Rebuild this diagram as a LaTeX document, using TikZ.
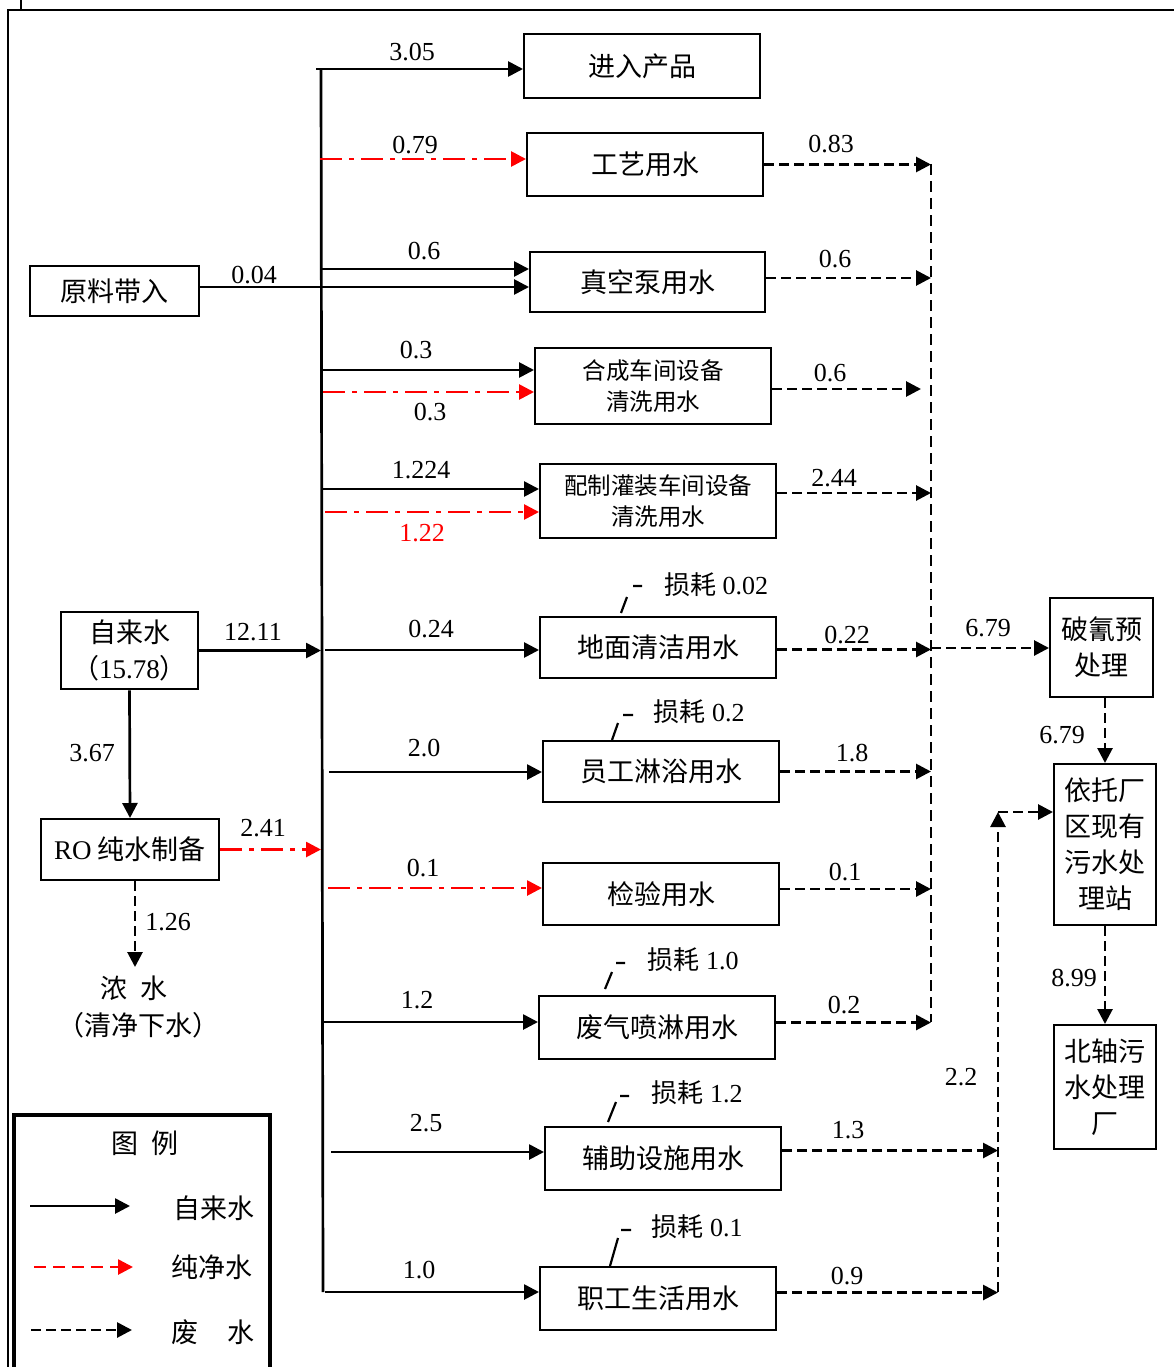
\documentclass[tikz,border=0pt]{standalone}
\usepackage{fontspec}
\setmainfont{Liberation Serif}
\newfontfamily\cjk{Noto Sans CJK SC}
\usetikzlibrary{arrows.meta}
\begin{document}
\begin{tikzpicture}[x=1pt,y=-1pt,
  box/.style={draw,line width=2pt,inner sep=0pt,align=center,font=\cjk\fontsize{27}{36}\selectfont},
  sbox/.style={box,font=\cjk\fontsize{23.5}{31}\selectfont},
  num/.style={inner sep=0pt,font=\fontsize{26}{30}\selectfont},
  lbl/.style={inner sep=0pt,font=\fontsize{26}{30}\selectfont},
  tip/.style={-{Triangle[length=15pt,width=15pt]}},
  wline/.style={tip,line width=2.7pt},
  pline/.style={tip,line width=2.7pt,red,dash pattern=on 22pt off 7pt on 5pt off 7pt},
  wwline/.style={tip,line width=2.8pt,dash pattern=on 10pt off 5pt},
  wwplain/.style={line width=2.8pt,dash pattern=on 11pt off 6pt},
  leader/.style={line width=2.2pt}
]
\useasboundingbox (0,0) rectangle (1173,1367);
% frame
\draw[line width=2.5pt] (8,1390) -- (8,10) -- (1190,10);
\draw[line width=1.8pt] (21,-5) -- (21,10);

% boxes
\node[box,minimum width=236,minimum height=64] (jr) at (642,66) {进入产品};
\node[box,minimum width=236,minimum height=63] (gy) at (645,164.5) {工艺用水};
\node[box,minimum width=235,minimum height=60] (zk) at (647.5,282) {真空泵用水};
\node[sbox,minimum width=236,minimum height=76] (hc) at (653,386) {合成车间设备\\清洗用水};
\node[sbox,minimum width=236,minimum height=74] (pz) at (658,501) {配制灌装车间设备\\清洗用水};
\node[box,minimum width=236,minimum height=61] (dm) at (658,647.5) {地面清洁用水};
\node[box,minimum width=236,minimum height=61] (yg) at (661,771.5) {员工淋浴用水};
\node[box,minimum width=236,minimum height=62] (jy) at (661,894) {检验用水};
\node[box,minimum width=236,minimum height=63] (fq) at (657,1027.5) {废气喷淋用水};
\node[box,minimum width=236,minimum height=63] (fz) at (663,1158.5) {辅助设施用水};
\node[box,minimum width=236,minimum height=63] (zg) at (658,1298.5) {职工生活用水};
\node[box,minimum width=169,minimum height=50] (yl) at (114.5,291) {原料带入};
\node[box,line width=2.8pt,minimum width=137,minimum height=77] (zls) at (129.5,650.5) {自来水\\{\cjk （}{\rmfamily 15.78}{\cjk ）}};
\node[box,minimum width=178,minimum height=61] (ro) at (130,849.5) {{\rmfamily RO} 纯水制备};
\node[box,minimum width=103,minimum height=99] (po) at (1101.5,647.5) {破氰预\\处理};
\node[box,minimum width=102,minimum height=161] (yt) at (1105,844.5) {依托厂\\区现有\\污水处\\理站};
\node[box,minimum width=102,minimum height=124] (bz) at (1105,1087) {北轴污\\水处理\\厂};

% bus
\coordinate (bt) at (321,69);
\coordinate (bb) at (323,1292);
\draw[line width=2.7pt] (bt) -- (bb);

% tap / pure water supply
\coordinate (s1) at (316,69);   \draw[wline] (s1) -- (s1 -| jr.west);
\coordinate (s2) at (320,159);  \draw[pline] (s2) -- (s2 -| gy.west);
\coordinate (s3) at (320,269);  \draw[wline] (s3) -- (s3 -| zk.west);
\draw[wline] ([yshift=4pt]yl.east) -- ([yshift=4pt]yl.east -| zk.west);
\coordinate (s4) at (320,370);  \draw[wline] (s4) -- (s4 -| hc.west);
\coordinate (s5) at (323,392);  \draw[pline] (s5) -- (s5 -| hc.west);
\coordinate (s6) at (323,489);  \draw[wline] (s6) -- (s6 -| pz.west);
\coordinate (s7) at (325,512);  \draw[pline] (s7) -- (s7 -| pz.west);
\coordinate (s8) at (321,650);  \draw[wline] (zls.east) -- (zls.east -| s8);
\coordinate (s9) at (325,650);  \draw[wline] (s9) -- (s9 -| dm.west);
\coordinate (s10) at (329,772); \draw[wline] (s10) -- (s10 -| yg.west);
\draw[pline] (ro.east) -- (ro.east -| bt);
\coordinate (s11) at (328,888); \draw[pline] (s11) -- (s11 -| jy.west);
\coordinate (s12) at (324,1022); \draw[wline] (s12) -- (s12 -| fq.west);
\coordinate (s13) at (331,1152); \draw[wline] (s13) -- (s13 -| fz.west);
\coordinate (s14) at (325,1292); \draw[wline] (s14) -- (s14 -| zg.west);
\draw[wline] (zls.south) -- (ro.north);
\coordinate (n1) at (135,967);
\draw[wwline] (ro.south -| n1) -- (n1);

% waste water
\coordinate (c1) at (931,164);
\coordinate (c2) at (931,1022);
\coordinate (c3) at (931,648);
\draw[wwplain] (c1) -- (c2);
\draw[wwline] (gy.east) -- (gy.east -| c1);
\draw[wwline] ([yshift=4pt]zk.east) -- ([yshift=4pt]zk.east -| c1);
\draw[wwline,shorten >=10pt] ([yshift=-3pt]hc.east) -- ([yshift=-3pt]hc.east -| c1);
\draw[wwline] ([yshift=8pt]pz.east) -- ([yshift=8pt]pz.east -| c1);
\draw[wwline] ([yshift=-2pt]dm.east) -- ([yshift=-2pt]dm.east -| c1);
\draw[wwline] (yg.east) -- (yg.east -| c1);
\draw[wwline] ([yshift=5pt]jy.east) -- ([yshift=5pt]jy.east -| c1);
\draw[wwline] ([yshift=5pt]fq.east) -- ([yshift=5pt]fq.east -| c1);
\draw[wwline] (c3) -- (c3 -| po.west);
\draw[wwline] (po.south -| yt.north) -- (yt.north);
\draw[wwline] (yt.south) -- (bz.north);
\coordinate (d1) at (998,1292);
\coordinate (d2) at (998,812);
\draw[wwline] (d1) -- (d2);
\draw[wwline] (d2) -- (d2 -| yt.west);
\draw[wwline] ([yshift=8pt]fz.east) -- ([yshift=8pt]fz.east -| d1);
\draw[wwline] ([yshift=6pt]zg.east) -- ([yshift=6pt]zg.east -| d1);

% loss leaders
\draw[leader] (621,613) -- (627,597) (633,586) -- (642,586);
\draw[leader] (612,740) -- (618,723) (623,715) -- (633,715);
\draw[leader] (605,989) -- (612,972) (616,963) -- (625,963);
\draw[leader] (608,1122) -- (616,1102) (620,1096) -- (629,1096);
\draw[leader] (610,1266) -- (618,1238) (621,1230) -- (631,1230);

% numeric labels (left)
\node[num] (t1) at (412,52) {3.05};
\node[num] (t2) at (415,145) {0.79};
\node[num] (t3) at (424,251) {0.6};
\node[num] (t4) at (254,275) {0.04};
\node[num] (t5) at (416,350) {0.3};
\node[num] (t6) at (430,412) {0.3};
\node[num] (t7) at (421,470) {1.224};
\node[num,red] (t8) at (422,533) {1.22};
\node[num] (t9) at (253,632) {12.11};
\node[num] (t10) at (431,629) {0.24};
\node[num] (t11) at (92,753) {3.67};
\node[num] (t12) at (424,748) {2.0};
\node[num] (t13) at (263,828) {2.41};
\node[num] (t14) at (423,868) {0.1};
\node[num] (t15) at (168,922) {1.26};
\node[num] (t16) at (417,1000) {1.2};
\node[num] (t17) at (426,1123) {2.5};
\node[num] (t18) at (419,1270) {1.0};
% numeric labels (right)
\node[num] (r1) at (831,144) {0.83};
\node[num] (r2) at (835,259) {0.6};
\node[num] (r3) at (830,373) {0.6};
\node[num] (r4) at (834,478) {2.44};
\node[num] (r5) at (847,635) {0.22};
\node[num] (r6) at (988,628) {6.79};
\node[num] (r7) at (1062,735) {6.79};
\node[num] (r8) at (852,753) {1.8};
\node[num] (r9) at (845,872) {0.1};
\node[num] (r10) at (844,1005) {0.2};
\node[num] (r11) at (1074,978) {8.99};
\node[num] (r12) at (961,1077) {2.2};
\node[num] (r13) at (848,1130) {1.3};
\node[num] (r14) at (847,1276) {0.9};
% losses
\node[lbl] (x1) at (716,585) {{\cjk 损耗} 0.02};
\node[lbl] (x2) at (699,712) {{\cjk 损耗} 0.2};
\node[lbl] (x3) at (693,960) {{\cjk 损耗} 1.0};
\node[lbl] (x4) at (697,1093) {{\cjk 损耗} 1.2};
\node[lbl] (x5) at (697,1227) {{\cjk 损耗} 0.1};
% concentrate
\node[lbl,font=\cjk\fontsize{27}{36}\selectfont] (nz1) at (134,988) {浓\hspace{0.5em}水};
\node[lbl,font=\cjk\fontsize{27}{36}\selectfont] (nz2) at (138,1025) {（清净下水）};

% legend
\draw[line width=4pt] (14,1400) -- (14,1115) -- (270,1115) -- (270,1400);
\node[lbl,font=\cjk\fontsize{27}{36}\selectfont] (lg) at (145,1143) {图\hspace{0.5em}例};
\coordinate (la1) at (30,1206);  \coordinate (lb1) at (130,1206);
\coordinate (la2) at (34,1267);  \coordinate (lb2) at (133,1267);
\coordinate (la3) at (31,1330);  \coordinate (lb3) at (132,1330);
\draw[wline] (la1) -- (lb1);
\draw[tip,line width=2.7pt,red,dash pattern=on 12pt off 7pt] (la2) -- (lb2);
\draw[wwline] (la3) -- (lb3);
\node[lbl,font=\cjk\fontsize{27}{36}\selectfont] (lt1) at (214,1208) {自来水};
\node[lbl,font=\cjk\fontsize{27}{36}\selectfont] (lt2) at (212,1267) {纯净水};
\node[lbl,font=\cjk\fontsize{27}{36}\selectfont] (lt3) at (213,1332) {废\hspace{1.1em}水};
\end{tikzpicture}
\end{document}
